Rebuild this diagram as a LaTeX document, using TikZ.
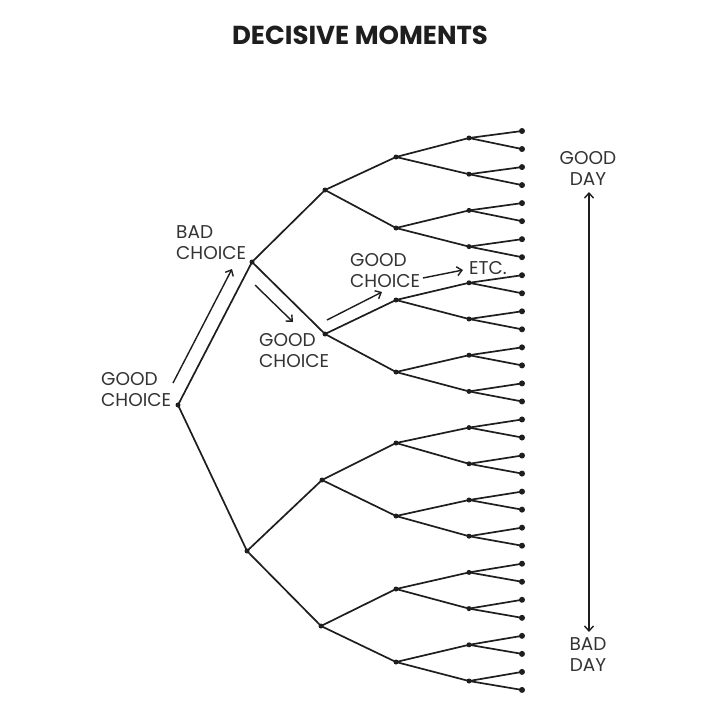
\documentclass[tikz,border=0pt]{standalone}
\usepackage{fontspec}
\setmainfont{Poppins}
\usetikzlibrary{arrows.meta,positioning,calc}

\definecolor{ink}{HTML}{1E1E1E}
\definecolor{txt}{HTML}{333333}

\tikzset{
  dot/.style={circle, fill=ink, inner sep=0pt, minimum size=5pt},
  branch/.style={ink, line width=1.7pt},
  lbl/.style={txt, inner sep=0pt, font=\fontsize{18.5}{21}\selectfont, align=left, anchor=west},
  daylbl/.style={txt, inner sep=0pt, font=\fontsize{18.5}{21}\selectfont, align=center},
  note/.style={ink, line width=1.4pt, -{Straight Barb[length=5pt,width=9pt]}}
}

\begin{document}
\begin{tikzpicture}[x=1pt, y=-1pt]
    \useasboundingbox (0,0) rectangle (720,720);
    \fill[white] (0,0) rectangle (720,720);

    % Title
    \node[ink, font=\bfseries\fontsize{26}{26}\selectfont] (title) at (360,35) {DECISIVE MOMENTS};

    % First choices
    \node[dot] (r) at (178,405) {};
    \foreach \n/\x/\y/\p in {a1/252/262/r, a2/247/551/r,
        b1/325/190/a1, b2/325/334/a1, b3/322/480/a2, b4/321/626/a2} {
        \node[dot] (\n) at (\x,\y) {};
        \draw[branch] (\p.center) -- (\n.center);
    }

    % Later choices
    \foreach \y [count=\i] in {157,228,300,372,443,516,589,662} {
        \pgfmathtruncatemacro\p{(\i+1)/2}
        \node[dot] (c\i) at (396,\y) {};
        \draw[branch] (b\p.center) -- (c\i.center);
    }
    \foreach \i in {1,...,16} {
        \pgfmathtruncatemacro\p{(\i+1)/2}
        \node[dot] (d\i) at (469,{138+(\i-1)*36.2}) {};
        \draw[branch] (c\p.center) -- (d\i.center);
    }
    \foreach \i in {1,...,32} {
        \pgfmathtruncatemacro\p{(\i+1)/2}
        \node[dot, minimum size=6pt] (e\i) at (522,{131+(\i-1)*18.03}) {};
        \draw[branch] (d\p.center) -- (e\i.center);
    }

    % Choice labels
    \node[lbl] (gc1) at (101,390) {GOOD\\CHOICE};
    \node[lbl] (bc) at (176,243) {BAD\\CHOICE};
    \node[lbl] (gc2) at (259,351) {GOOD\\CHOICE};
    \node[lbl] (gc3) at (350,271) {GOOD\\CHOICE};
    \node[lbl] (etc) at (469,268) {ETC.};

    % Path arrows
    \coordinate (s1) at (173,383); \coordinate (t1) at (232,269);
    \coordinate (s2) at (255,285); \coordinate (t2) at (293,322);
    \coordinate (s3) at (327,320); \coordinate (t3) at (382,292);
    \coordinate (s4) at (423,278); \coordinate (t4) at (463,270);
    \draw[note] (s1) -- (t1);
    \draw[note] (s2) -- (t2);
    \draw[note] (s3) -- (t3);
    \draw[note] (s4) -- (t4);

    % Good day / bad day
    \node[daylbl] (gd) at (588,168) {GOOD\\DAY};
    \node[daylbl] (bd) at (588,655) {BAD\\DAY};
    \coordinate (up) at (589,192);
    \coordinate (down) at (589,632);
    \draw[note, {Straight Barb[length=5pt,width=9pt]}-{Straight Barb[length=5pt,width=9pt]}] (up) -- (down);
\end{tikzpicture}
\end{document}
